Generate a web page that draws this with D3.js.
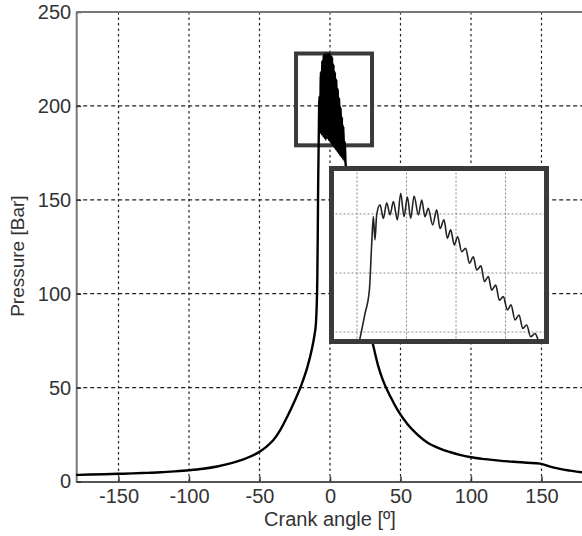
<!DOCTYPE html>
<html>
<head>
<meta charset="utf-8">
<script src="https://cdn.jsdelivr.net/npm/d3@7"></script>
<style>
  body { margin: 0; background: #fff; }
  svg { display: block; font-family: "Liberation Sans", Arial, sans-serif; }
</style>
</head>
<body>
<div id="chart"></div>
<script>
// crank angle [deg] and cylinder pressure [bar], main trace
let crankAngle = [-180, -170, -160, -150, -140, -130, -120, -110, -100, -90, -80, -70, -60, -50, -45, -40, -35, -30, -25, -20, -16, -13, -11, -10, -9.5, -9, -8.7, -8.4, -8,
  -7.5, -7, -6.5, -6, -5.5, -5, -4.5, -4, -3.5, -3, -2.5, -2, -1.5, -1, -0.5, 0, 0.5, 1, 1.5, 2, 2.5, 3, 3.5, 4, 4.5, 5, 5.5, 6, 6.5, 7, 7.5, 8, 8.5, 9, 9.5, 10, 10.5,
  11, 12.5, 14, 17, 20, 24, 27, 30.5, 34, 37.5, 43, 48, 55, 62, 69, 77, 85, 92, 100, 110, 120, 130, 140, 149, 155, 163, 170, 180];
let pressure = [3.5, 3.7, 3.9, 4.1, 4.3, 4.6, 4.9, 5.4, 6.0, 6.8, 8.0, 9.8, 12.2, 15.8, 18.6, 22.2, 27.8, 35, 43, 52, 61, 70, 78, 84, 92, 108, 130, 158, 182,
  205, 186, 218, 185, 224, 184, 227, 183, 228, 182, 227, 183, 228, 182, 228, 181, 227, 180, 226, 179, 222, 178, 218, 177, 214, 176, 209, 175, 204, 174, 199, 173, 194, 172, 189, 171, 181,
  170, 160, 150, 131, 114, 96, 85, 73, 62, 54, 45, 38, 30.5, 25, 20.8, 17.8, 15.7, 14.2, 12.9, 11.9, 11.1, 10.5, 10, 9.5, 8.2, 6.7, 5.8, 4.8];

// zoomed view of the peak (inset)
let insetAngle = [-7.9, -7.35, -7.0, -6.81, -6.68, -6.55, -6.41, -6.14, -5.87, -5.60, -5.33, -5.06, -4.74, -4.47, -4.20, -3.93, -3.66, -3.39, -3.04, -2.77, -2.51, -2.24,
  -1.89, -1.56, -1.29, -0.97, -0.70, -0.43, -0.14, 0.13, 0.46, 0.78, 1.08, 1.40, 1.67, 2.02, 2.29, 2.61, 2.88, 3.21, 3.50, 3.82, 4.15, 4.44, 4.77, 5.09, 5.39, 5.71,
  6.03, 6.38, 6.65, 6.85];
let insetPressure = [175, 186.3, 194.2, 210.1, 219.1, 211.2, 219.7, 223.1, 218.5, 223.8, 219.7, 224.2, 218.0, 227.0, 219.1, 225.7, 218.5, 226.1, 219.7, 224.7, 219.1, 221.9,
  216.3, 221.4, 215.1, 218.0, 211.8, 214.6, 209.5, 212.3, 207.2, 208.4, 203.3, 205.5, 201.0, 202.4, 197.1, 198.8, 194.2, 195.9, 190.8, 192.0, 187.5, 189.2, 184.1, 185.8, 181.2, 182.4,
  178.4, 179.5, 177.3, 176];

let xTicks = [-150, -100, -50, 0, 50, 100, 150];
let yTicks = [0, 50, 100, 150, 200, 250];
let insetXTicks = [-8, -4, 0, 4];
let insetYTicks = [180, 200, 220];

drawChart();

function drawChart() {
    let width = 582, height = 536;
    let left = 76.2, right = 583.8, top = 12, bottom = 481.5;

    let svg = d3.select("#chart").append("svg")
        .attr("width", width)
        .attr("height", height);

    let xScale = d3.scaleLinear().domain([-180, 180]).range([left, right]);
    let yScale = d3.scaleLinear().domain([0, 250]).range([bottom, top]);

    // grid
    svg.append("g").selectAll("line")
        .data(xTicks).enter().append("line")
        .attr("x1", d => xScale(d)).attr("x2", d => xScale(d))
        .attr("y1", top).attr("y2", bottom)
        .attr("stroke", "#222").attr("stroke-width", 1.2)
        .attr("stroke-dasharray", "2.5,3");
    svg.append("g").selectAll("line")
        .data(yTicks.filter(d => d > 0 && d < 250)).enter().append("line")
        .attr("x1", left).attr("x2", right)
        .attr("y1", d => yScale(d)).attr("y2", d => yScale(d))
        .attr("stroke", "#222").attr("stroke-width", 1.2)
        .attr("stroke-dasharray", "4,3");

    // axes (plain hyphen for negatives, like the original)
    let fmt = d => String(d);
    let xAxis = d3.axisBottom(xScale).tickValues(xTicks).tickFormat(fmt).tickSize(-5).tickSizeOuter(0).tickPadding(7);
    let gx = svg.append("g")
        .attr("transform", "translate(0," + bottom + ")")
        .call(xAxis);
    let yAxis = d3.axisLeft(yScale).tickValues(yTicks).tickFormat(fmt).tickSize(-5).tickSizeOuter(0).tickPadding(5);
    let gy = svg.append("g")
        .attr("transform", "translate(" + left + ",0)")
        .call(yAxis);
    gx.select(".domain").attr("stroke", "#555").attr("stroke-width", 2);
    gy.select(".domain").attr("stroke", "#777").attr("stroke-width", 2);
    gx.selectAll(".tick line").attr("stroke", "#333").attr("stroke-width", 1.5);
    gy.selectAll(".tick line").attr("stroke", "#333").attr("stroke-width", 1.5);
    svg.selectAll(".tick text").attr("font-size", 20).attr("fill", "#333")
        .attr("font-family", "Liberation Sans, Arial, sans-serif");

    // top border
    svg.append("line")
        .attr("x1", left).attr("x2", right).attr("y1", top).attr("y2", top)
        .attr("stroke", "#777").attr("stroke-width", 2);

    // axis titles
    svg.append("text")
        .attr("x", xScale(0)).attr("y", 526)
        .attr("text-anchor", "middle")
        .attr("font-size", 20).attr("fill", "#333")
        .text("Crank angle [º]");
    svg.append("text")
        .attr("transform", "translate(24," + yScale(120) + ") rotate(-90)")
        .attr("text-anchor", "middle")
        .attr("font-size", 19).attr("fill", "#333")
        .text("Pressure [Bar]");

    // small marker box around the peak
    svg.append("rect")
        .attr("x", xScale(-24.1)).attr("y", yScale(227.9))
        .attr("width", xScale(29.8) - xScale(-24.1))
        .attr("height", yScale(179) - yScale(227.9))
        .attr("fill", "none").attr("stroke", "#3a3a3a").attr("stroke-width", 4);

    // main trace
    let mainData = crankAngle.map((a, i) => ({ a: a, p: pressure[i] }));
    let line = d3.line().curve(d3.curveMonotoneX).x(d => xScale(d.a)).y(d => yScale(d.p));
    svg.append("path")
        .datum(mainData)
        .attr("d", line)
        .attr("fill", "none").attr("stroke", "#000").attr("stroke-width", 2.4)
        .attr("stroke-linejoin", "round");

    // inset
    let ix0 = 331.5, ix1 = 546.5, iy0 = 168.5, iy1 = 341.5;
    let insetX = d3.scaleLinear().domain([-10.06, 7.31]).range([ix0, ix1]);
    let insetY = d3.scaleLinear().domain([176.8, 235.4]).range([iy1, iy0]);

    svg.append("rect")
        .attr("x", ix0).attr("y", iy0)
        .attr("width", ix1 - ix0).attr("height", iy1 - iy0)
        .attr("fill", "#fff");

    svg.append("clipPath").attr("id", "insetClip")
        .append("rect")
        .attr("x", ix0).attr("y", iy0)
        .attr("width", ix1 - ix0).attr("height", iy1 - iy0);

    let inset = svg.append("g").attr("clip-path", "url(#insetClip)");
    inset.selectAll(".ivx")
        .data(insetXTicks).enter().append("line")
        .attr("x1", d => insetX(d)).attr("x2", d => insetX(d))
        .attr("y1", iy0).attr("y2", iy1)
        .attr("stroke", "#8a8a8a").attr("stroke-width", 1)
        .attr("stroke-dasharray", "2,2");
    inset.selectAll(".ihy")
        .data(insetYTicks).enter().append("line")
        .attr("x1", ix0).attr("x2", ix1)
        .attr("y1", d => insetY(d)).attr("y2", d => insetY(d))
        .attr("stroke", "#8a8a8a").attr("stroke-width", 1)
        .attr("stroke-dasharray", "2,2");

    let insetData = insetAngle.map((a, i) => ({ a: a, p: insetPressure[i] }));
    inset.append("path")
        .datum(insetData)
        .attr("d", d3.line().curve(d3.curveMonotoneX).x(d => insetX(d.a)).y(d => insetY(d.p)))
        .attr("fill", "none").attr("stroke", "#222").attr("stroke-width", 1.6)
        .attr("stroke-linejoin", "round");

    svg.append("rect")
        .attr("x", ix0).attr("y", iy0)
        .attr("width", ix1 - ix0).attr("height", iy1 - iy0)
        .attr("fill", "none").attr("stroke", "#3a3a3a").attr("stroke-width", 5);
}
</script>
</body>
</html>
